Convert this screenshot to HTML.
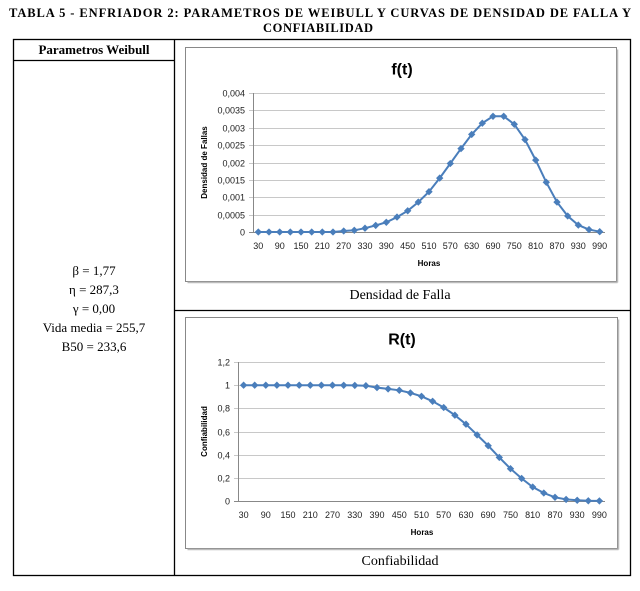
<!DOCTYPE html>
<html><head><meta charset="utf-8"><style>
body{margin:0;background:#fff;}
svg text{font-family:"Liberation Sans",sans-serif;}
.tm{font-family:"Liberation Serif",serif !important;}
</style></head><body>
<svg id="s" width="640" height="586" xmlns="http://www.w3.org/2000/svg">
<text class="tm" x="320" y="17" text-anchor="middle" font-size="12.5" font-weight="bold" textLength="622" lengthAdjust="spacing">TABLA 5 - ENFRIADOR  2: PARAMETROS  DE WEIBULL  Y CURVAS  DE DENSIDAD DE FALLA  Y</text>
<text class="tm" x="318" y="32" text-anchor="middle" font-size="12.5" font-weight="bold" textLength="110" lengthAdjust="spacing">CONFIABILIDAD</text>
<g stroke="#000" stroke-width="1.3" fill="none">
<rect x="13.5" y="39.5" width="617" height="536"/>
<line x1="174.5" y1="39.5" x2="174.5" y2="575.5"/>
<line x1="13.5" y1="60.5" x2="174.5" y2="60.5"/>
<line x1="174.5" y1="310.5" x2="630.5" y2="310.5"/>
</g>
<text class="tm" x="94" y="54" text-anchor="middle" font-size="13" font-weight="bold">Parametros  Weibull</text>
<g class="tm" font-size="13" text-anchor="middle">
<text class="tm" x="94" y="275">β = 1,77</text>
<text class="tm" x="94" y="294">η = 287,3</text>
<text class="tm" x="94" y="313">γ = 0,00</text>
<text class="tm" x="94" y="332">Vida media  = 255,7</text>
<text class="tm" x="94" y="351">B50 = 233,6</text>
</g>
<text class="tm" x="400" y="299" text-anchor="middle" font-size="14">Densidad de Falla</text>
<text class="tm" x="400" y="565" text-anchor="middle" font-size="14">Confiabilidad</text>
<g id="c"></g>
</svg>
<script>
var f=[0,0,0,0,0,0,0,0,0.00003,0.00005,0.00011,0.00019,0.00028,0.00043,0.00061,0.00086,0.00116,0.00155,0.00197,0.0024,0.00281,0.00313,0.00333,0.00333,0.0031,0.00266,0.00207,0.00143,0.00086,0.00046,0.0002,0.00007,0.00001];
var r=[1,1,1,1,1,1,1,1,1,0.999,0.998,0.995,0.979,0.968,0.956,0.933,0.904,0.861,0.807,0.741,0.663,0.571,0.477,0.376,0.279,0.195,0.121,0.069,0.032,0.014,0.006,0.002,0.001];
var h='';
function chart(o){
 h+='<rect x="'+o.bx+'" y="'+o.by+'" width="'+o.bw+'" height="'+o.bh+'" fill="#fff" stroke="#888" stroke-width="1"/>';
 h+='<line x1="'+(o.bx+o.bw+1)+'" y1="'+(o.by+2)+'" x2="'+(o.bx+o.bw+1)+'" y2="'+(o.by+o.bh+1)+'" stroke="#bbb" stroke-width="1.5"/>';
 h+='<line x1="'+(o.bx+2)+'" y1="'+(o.by+o.bh+1)+'" x2="'+(o.bx+o.bw+1)+'" y2="'+(o.by+o.bh+1)+'" stroke="#bbb" stroke-width="1.5"/>';
 h+='<text x="'+o.tx+'" y="'+(o.by+27)+'" text-anchor="middle" font-size="16" font-weight="bold">'+o.title+'</text>';
 for(var i=0;i<o.ticks.length;i++){var y=o.y0+(o.ytop-o.y0)*i/(o.ticks.length-1);
  y=Math.round(y)+0.5;
  h+='<line x1="'+(o.x0-4)+'" y1="'+y+'" x2="'+o.x1+'" y2="'+y+'" stroke="'+(i==0?'#888':'#c8c8c8')+'" stroke-width="1"/>';
  h+='<text x="'+(o.x0-8)+'" y="'+(y+3)+'" text-anchor="end" font-size="9" fill="#222">'+o.ticks[i]+'</text>';}
 h+='<line x1="'+(o.x0+.5)+'" y1="'+o.ytop+'" x2="'+(o.x0+.5)+'" y2="'+o.y0+'" stroke="#888"/>';
 var w=(o.x1-o.x0)/33,p=[];
 for(var k=0;k<33;k++){var x=o.x0+(k+.5)*w,y=o.y0+(o.ytop-o.y0)*o.d[k]/o.max;p.push(x.toFixed(1)+','+y.toFixed(1));
  if(k%2==0)h+='<text x="'+x.toFixed(1)+'" y="'+(o.y0+17)+'" text-anchor="middle" font-size="9" fill="#222">'+(30+30*k)+'</text>';}
 h+='<polyline points="'+p.join(' ')+'" fill="none" stroke="#4a7ebb" stroke-width="2"/>';
 p.forEach(function(q){var a=q.split(',');h+='<rect x="'+(a[0]-2.6)+'" y="'+(a[1]-2.6)+'" width="5.2" height="5.2" fill="#4a7ebb" transform="rotate(45 '+a[0]+' '+a[1]+')"/>';});
 h+='<text x="'+o.tx2+'" y="'+(o.y0+34)+'" text-anchor="middle" font-size="8" font-weight="bold">Horas</text>';
 h+='<text transform="translate('+o.ylx+' '+((o.y0+o.ytop)/2)+') rotate(-90)" text-anchor="middle" font-size="8" font-weight="bold">'+o.ylab+'</text>';
}
chart({bx:185.5,by:47.5,bw:431,bh:234,tx:402,title:'f(t)',x0:253,x1:605,y0:232,ytop:93,max:0.004,d:f,ticks:['0','0,0005','0,001','0,0015','0,002','0,0025','0,003','0,0035','0,004'],tx2:429,ylx:207,ylab:'Densidad de Fallas'});
chart({bx:185.5,by:317.5,bw:432,bh:231,tx:402,title:'R(t)',x0:238,x1:605,y0:501,ytop:362,max:1.2,d:r,ticks:['0','0,2','0,4','0,6','0,8','1','1,2'],tx2:422,ylx:207,ylab:'Confiabilidad'});
document.getElementById('c').innerHTML=h;
</script>
</body></html>
